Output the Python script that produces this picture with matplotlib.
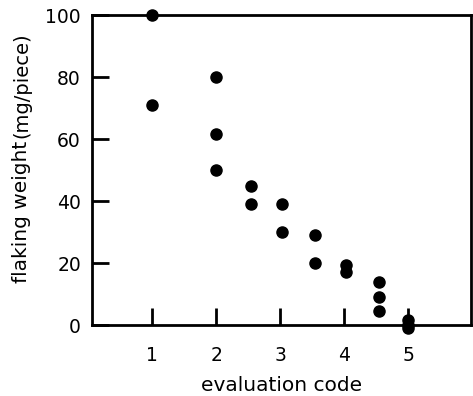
import matplotlib.pyplot as plt

# evaluation code vs flaking weight (mg/piece)
code = [1, 1, 2, 2, 2, 2.55, 2.55, 3.03, 3.03, 3.55, 3.55, 4.03, 4.03,
        4.55, 4.55, 4.55, 5, 5, 5]
weight = [100, 71, 80, 61.5, 50, 45, 39, 39, 30, 29, 20, 19.5, 17,
          14, 9, 4.5, 1.5, 0, -0.8]
xticks = [1, 2, 3, 4, 5]
yticks = [0, 20, 40, 60, 80, 100]

fig = plt.figure(figsize=(4.73, 3.96), dpi=100)
ax = fig.add_axes([0.1945, 0.179, 0.801, 0.783])
ax.plot(code, weight, 'o', color='black', ms=8, clip_on=False, zorder=3)

ax.set_xlim(0.06, 5.98)
ax.set_ylim(0, 100)
ax.set_xticks(xticks)
ax.set_yticks(yticks)
for s in ax.spines.values():
    s.set_linewidth(2)
ax.tick_params(axis='both', direction='in', length=12, width=2, labelsize=13.5)
ax.tick_params(axis='x', pad=15)
ax.tick_params(axis='y', pad=8)
ax.set_xlabel("evaluation code", fontsize=14.5, labelpad=8)

t1 = fig.text(0.046, 0.285, "flaking weight", rotation=90, fontsize=14.5,
              ha='center', va='bottom')
ax.annotate("(mg/piece)", xy=(0.5, 1), xycoords=t1, xytext=(0, 2),
            textcoords='offset points', rotation=90, fontsize=14,
            ha='center', va='bottom', annotation_clip=False)

fig.savefig("out.png", dpi=100)
